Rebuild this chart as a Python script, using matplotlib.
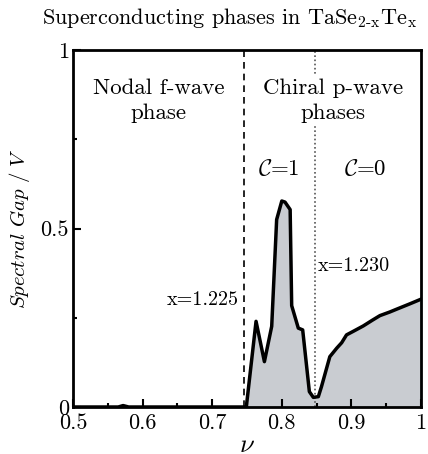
import matplotlib.pyplot as plt
import numpy as np

plt.rcParams['font.family'] = 'serif'
plt.rcParams['font.serif'] = ['cmr10']
plt.rcParams['mathtext.fontset'] = 'cm'
plt.rcParams['axes.formatter.use_mathtext'] = True

# spectral gap vs nu
nu = [0.50, 0.565, 0.572, 0.58, 0.745, 0.749, 0.763, 0.775, 0.7855, 0.7926, 0.800,
      0.8046, 0.812, 0.8142, 0.8237, 0.830, 0.8396, 0.8453, 0.8525, 0.857,
      0.869, 0.879, 0.886, 0.893, 0.9027, 0.917, 0.930, 0.941, 0.955, 0.965, 0.984, 1.0]
gap = [0.0, 0.0, 0.004, 0.0, 0.0, 0.0, 0.24, 0.127, 0.226, 0.525, 0.577,
       0.574, 0.553, 0.284, 0.221, 0.216, 0.043, 0.027, 0.029, 0.057,
       0.141, 0.165, 0.180, 0.202, 0.212, 0.227, 0.243, 0.256, 0.266, 0.274, 0.289, 0.302]

nu_f_to_p = 0.746   # x = 1.225
nu_c1_to_c0 = 0.847  # x = 1.230

fig = plt.figure(figsize=(4.28, 4.54), dpi=100)
ax = fig.add_axes([73/428, 1 - 407/454, 348/428, 357/454])

ax.fill_between(nu, gap, 0, color='#c9ccd1', zorder=1)
ax.plot(nu, gap, color='black', lw=2.5, zorder=3)

ax.axvline(nu_f_to_p, color='black', ls=(0, (4, 3)), lw=1.2, zorder=2)
ax.axvline(nu_c1_to_c0, color='#555555', ls=(0, (1, 1.5)), lw=1.2, zorder=2)

box = dict(facecolor='white', edgecolor='none', pad=2)
ax.text(0.623, 0.857, 'Nodal f-wave\nphase', ha='center', va='center',
        fontsize=16.5, linespacing=1.35, zorder=4)
ax.text(0.8735, 0.857, 'Chiral p-wave\nphases', ha='center', va='center',
        fontsize=16.5, linespacing=1.35, bbox=box, zorder=4)
ax.text(0.796, 0.669, r'$\mathcal{C}$=1', ha='center', va='center', fontsize=16.5, zorder=4)
ax.text(0.920, 0.669, r'$\mathcal{C}$=0', ha='center', va='center', fontsize=16.5, zorder=4)
ax.text(0.738, 0.30, 'x=1.225', ha='right', va='center', fontsize=14.5, zorder=4)
ax.text(0.852, 0.395, 'x=1.230', ha='left', va='center', fontsize=14.5, zorder=4)

ax.set_xlim(0.5, 1.0)
ax.set_ylim(0, 1)
ax.set_xticks([0.5, 0.6, 0.7, 0.8, 0.9, 1.0])
ax.set_xticklabels(['0.5', '0.6', '0.7', '0.8', '0.9', '1'])
ax.set_xticks(np.arange(0.55, 1.0, 0.1), minor=True)
ax.set_yticks([0, 0.5, 1])
ax.set_yticklabels(['0', '0.5', '1'])
ax.set_yticks([0.25, 0.75], minor=True)
ax.tick_params(which='both', direction='in', labelsize=16, width=1.5)
ax.tick_params(axis='x', pad=5)
ax.tick_params(axis='y', pad=3)
ax.tick_params(which='major', length=6)
ax.tick_params(which='minor', length=3)
for s in ax.spines.values():
    s.set_linewidth(2)
    s.set_zorder(5)

ax.set_xlabel(r'$\nu$', fontsize=19, labelpad=0)
ax.set_ylabel(r'$Spectral\ Gap\ /\ V$', fontsize=15, labelpad=6)
fig.text(230/428, 1 - 18/454,
         r'Superconducting phases in TaSe$_{\mathrm{2}\text{-}\mathrm{x}}$Te$_{\mathrm{x}}$',
         ha='center', va='center', fontsize=16)

fig.savefig('out.png', dpi=100)
